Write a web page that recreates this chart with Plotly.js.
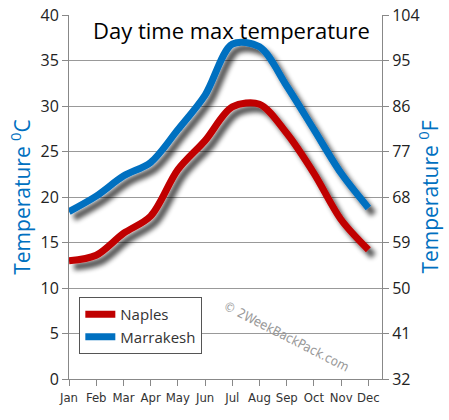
<!DOCTYPE html>
<html>
<head>
<meta charset="utf-8">
<script src="https://cdn.plot.ly/plotly-3.0.1.min.js"></script>
<style>
html,body{margin:0;padding:0;background:#fff;}
#chart{width:449px;height:420px;}
</style>
</head>
<body>
<svg width="0" height="0" style="position:absolute">
  <defs>
    <filter id="lineShadow" x="-20%" y="-20%" width="150%" height="160%">
      <feGaussianBlur in="SourceAlpha" stdDeviation="2.4" result="blur"/>
      <feOffset in="blur" dx="5" dy="6" result="off"/>
      <feComponentTransfer in="off" result="shadow">
        <feFuncA type="linear" slope="0.7"/>
      </feComponentTransfer>
      <feMerge>
        <feMergeNode in="shadow"/>
        <feMergeNode in="SourceGraphic"/>
      </feMerge>
    </filter>
  </defs>
</svg>
<div id="chart"></div>
<script>
const months = ["Jan","Feb","Mar","Apr","May","Jun","Jul","Aug","Sep","Oct","Nov","Dec"];
const naples = [13.0, 13.6, 16.0, 17.9, 23.0, 26.2, 29.9, 30.2, 27.0, 22.6, 17.5, 14.2];
const marrakesh = [18.4, 20.1, 22.3, 23.8, 27.4, 31.2, 36.8, 36.5, 32.2, 27.4, 22.6, 18.8];
const leftTicks = [0, 5, 10, 15, 20, 25, 30, 35, 40];
const rightTicks = [32, 41, 50, 59, 68, 77, 86, 95, 104];
const seriesNames = ["Naples", "Marrakesh"];
const titleText = "Day time max temperature";
const watermark = "© 2WeekBackPack.com";

const font = "Open Sans, DejaVu Sans, sans-serif";
const narrow = "DejaVu Sans Condensed, Liberation Sans Narrow, Open Sans, sans-serif";

const traces = [
  {x: months, y: naples, name: seriesNames[0], type: "scatter", mode: "lines",
   line: {color: "#C00000", width: 7, shape: "spline", smoothing: 0.9}},
  {x: months, y: marrakesh, name: seriesNames[1], type: "scatter", mode: "lines",
   line: {color: "#0070C0", width: 7, shape: "spline", smoothing: 0.9}},
  {x: months, y: naples.map(v => v * 9 / 5 + 32), yaxis: "y2", type: "scatter", mode: "lines",
   line: {width: 0}, showlegend: false, hoverinfo: "skip", opacity: 0}
];

const layout = {
  width: 449, height: 420,
  margin: {l: 69, r: 67, t: 15, b: 41, pad: 0},
  paper_bgcolor: "#fff", plot_bgcolor: "#fff",
  font: {family: font, color: "#222"},
  showlegend: true,
  legend: {x: 0.033, y: 0.225, xanchor: "left", yanchor: "top",
    bgcolor: "#fff", bordercolor: "#555", borderwidth: 1,
    font: {family: font, size: 15, color: "#333"}, tracegroupgap: 6, itemwidth: 30},
  xaxis: {type: "category", range: [0, 11.5], showgrid: false, zeroline: false,
    showline: true, linecolor: "#888", linewidth: 1,
    ticks: "outside", ticklen: 6, tickcolor: "#888", tickangle: 0,
    tickfont: {family: narrow, size: 13, color: "#333"}, fixedrange: true},
  yaxis: {range: [0, 40], tickvals: leftTicks, ticktext: leftTicks.map(String),
    showgrid: true, gridcolor: "#999", gridwidth: 1, zeroline: false,
    showline: true, linecolor: "#888", linewidth: 1,
    ticks: "outside", ticklen: 6, tickcolor: "#888",
    tickfont: {family: font, size: 16, color: "#222"},
    title: {text: "Temperature <sup>0</sup>C", font: {family: font, size: 21, color: "#0070C0"}, standoff: 4}},
  yaxis2: {overlaying: "y", side: "right", range: [32, 104], tickvals: rightTicks,
    ticktext: rightTicks.map(String), showgrid: false, zeroline: false,
    showline: true, linecolor: "#888", linewidth: 1,
    ticks: "outside", ticklen: 6, tickcolor: "#888",
    tickfont: {family: font, size: 16, color: "#222"},
    title: {text: "Temperature <sup>0</sup>F", font: {family: font, size: 21, color: "#0070C0"}, standoff: 4}},
  annotations: [
    {text: titleText, xref: "paper", yref: "paper", x: 0.518, y: 0.959,
     xanchor: "center", yanchor: "middle", showarrow: false,
     font: {family: font, size: 22, color: "#000"}},
    {text: watermark, xref: "x", yref: "y", x: 8.0, y: 4.7, showarrow: false,
     textangle: 27, font: {family: narrow, size: 13, color: "#999"}}
  ]
};

Plotly.newPlot("chart", traces, layout, {displayModeBar: false, staticPlot: true}).then(function(gd){
  gd.querySelectorAll(".scatterlayer .trace path.js-line").forEach(function(p){
    p.setAttribute("filter", "url(#lineShadow)");
  });
});
</script>
</body>
</html>
